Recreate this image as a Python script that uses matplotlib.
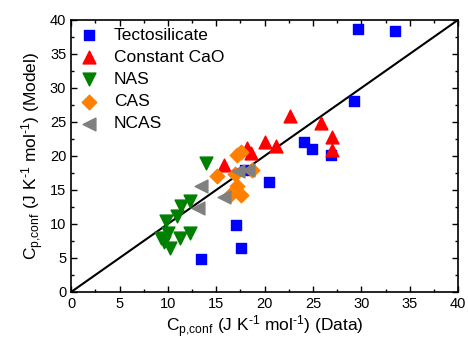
import matplotlib
matplotlib.use("Agg")
import matplotlib.pyplot as plt
from matplotlib.ticker import MultipleLocator

plt.rcParams["font.family"] = ["Liberation Sans", "DejaVu Sans"]
plt.rcParams["mathtext.fontset"] = "custom"
plt.rcParams["mathtext.rm"] = "Liberation Sans"
plt.rcParams["mathtext.it"] = "Liberation Sans:italic"

# configurational heat capacity, data vs model (J K-1 mol-1)
tecto_x = [29.6, 33.5, 29.2, 24.1, 24.9, 26.9, 20.5, 18.0, 17.05, 17.6, 13.4]
tecto_y = [38.6, 38.4, 28.0, 22.0, 21.0, 20.2, 16.1, 18.0, 9.85, 6.4, 4.85]

cao_x = [22.6, 25.8, 27.0, 27.0, 20.05, 21.2, 18.2, 18.6, 15.8]
cao_y = [25.8, 24.8, 22.8, 20.9, 22.0, 21.5, 21.1, 20.4, 18.6]

nas_x = [13.9, 12.3, 11.4, 10.9, 9.8, 10.0, 9.3, 9.6, 10.2, 11.3, 12.3]
nas_y = [18.9, 13.3, 12.6, 11.2, 10.5, 8.7, 7.9, 7.3, 6.5, 8.0, 8.6]

cas_x = [17.1, 17.6, 15.1, 16.9, 18.7, 17.1, 16.4, 17.6]
cas_y = [20.1, 20.6, 17.0, 17.4, 17.9, 15.6, 14.2, 14.2]

ncas_x = [13.4, 13.1, 15.8, 17.2, 18.3]
ncas_y = [15.6, 12.4, 14.0, 17.8, 17.9]

fig = plt.figure(figsize=(4.68, 3.48), dpi=100)
ax = fig.add_axes([0.152, 0.161, 0.827, 0.782])

ax.plot([0, 40], [0, 40], color="black", lw=1.5, zorder=1)

ax.scatter(tecto_x, tecto_y, marker="s", s=60, color="#0000FF", label="Tectosilicate", zorder=3)
ax.scatter(cao_x, cao_y, marker="^", s=85, color="#FF0000", label="Constant CaO", zorder=3)
ax.scatter(nas_x, nas_y, marker="v", s=85, color="#008000", label="NAS", zorder=3)
ax.scatter(cas_x, cas_y, marker="D", s=55, color="#FF8000", label="CAS", zorder=3)
ax.scatter(ncas_x, ncas_y, marker="<", s=85, color="#808080", label="NCAS", zorder=3)

ax.set_xlim(0, 40)
ax.set_ylim(0, 40)
ax.xaxis.set_major_locator(MultipleLocator(5))
ax.yaxis.set_major_locator(MultipleLocator(5))
ax.xaxis.set_minor_locator(MultipleLocator(2.5))
ax.yaxis.set_minor_locator(MultipleLocator(2.5))
ax.tick_params(which="both", direction="in", top=True, right=True, labelsize=10.5)
ax.tick_params(which="major", length=4, width=1)
ax.tick_params(which="minor", length=2, width=1)
for sp in ax.spines.values():
    sp.set_linewidth(1.2)

sub = r"C$_{\mathrm{p{,}conf}}$"
ax.set_xlabel(sub + r" (J K$^{\mathrm{\text{-}1}}$ mol$^{\mathrm{\text{-}1}}$) (Data)", fontsize=12.5, labelpad=2)
ax.set_ylabel(sub + r" (J K$^{\mathrm{\text{-}1}}$ mol$^{\mathrm{\text{-}1}}$) (Model)", fontsize=12.5, labelpad=3)

ax.legend(loc="upper left", frameon=False, fontsize=12.5, handlelength=1.2, handletextpad=0.8,
          labelspacing=0.4, borderaxespad=0.15, borderpad=0.3, scatterpoints=1)

fig.savefig("out.png", dpi=100)
